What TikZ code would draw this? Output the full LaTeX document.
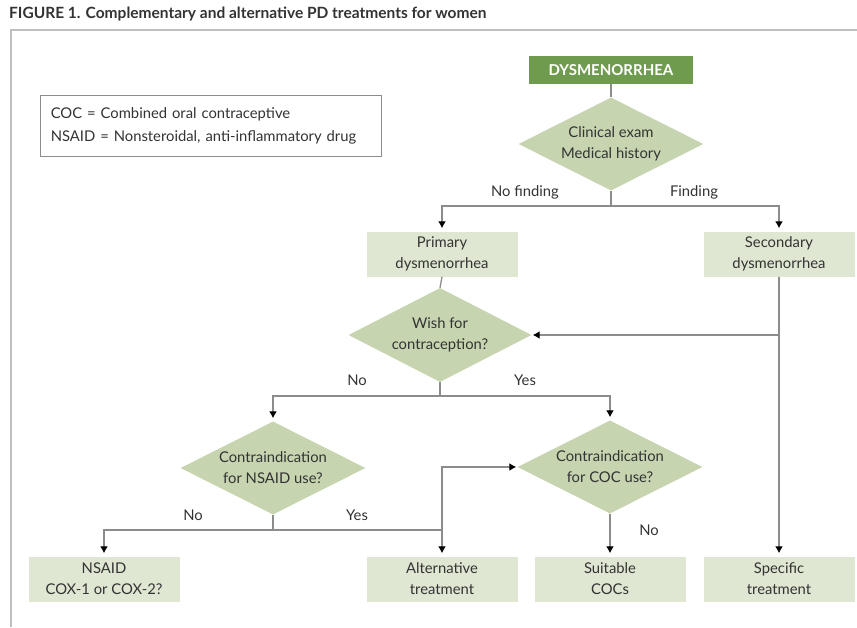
\documentclass[tikz,border=0pt]{standalone}
\usepackage{fontspec}
\setmainfont{Lato}
\usepackage{xcolor}
\usetikzlibrary{arrows.meta,positioning,shapes.geometric,calc}

\definecolor{darkgreen}{HTML}{6E9B4E}
\definecolor{diagreen}{HTML}{C6D5B0}
\definecolor{boxgreen}{HTML}{DFE7D2}
\definecolor{linegray}{HTML}{8C8C8C}
\definecolor{textgray}{HTML}{333333}

\begin{document}
\begin{tikzpicture}[x=1pt,y=-1pt,
  every node/.style={text=textgray,font=\fontsize{14.8}{21}\selectfont},
  box/.style={fill=boxgreen,minimum width=151,minimum height=45,align=center,inner sep=0},
  decision/.style={diamond,aspect=2.2,fill=diagreen,minimum width=185,minimum height=93,
    inner sep=-10pt,align=center},
  lbl/.style={font=\fontsize{14.8}{17}\selectfont},
  line/.style={draw=linegray,line width=1.3pt},
  arr/.style={line,-{Latex[length=7pt,width=8pt,color=black]},shorten >=3pt}
]
\useasboundingbox (0,0) rectangle (857,627);
% frame and title
\draw[draw=black!25,line width=1.5pt] (11,627) -- (11,30) -- (857,30);
\node[anchor=west,font=\bfseries\fontsize{15.5}{17}\selectfont,inner sep=0] (title) at (9,14)
  {FIGURE 1. Complementary and alternative PD treatments for women};
\node[draw=black!45,line width=0.6pt,minimum width=341,minimum height=61,text width=320,
  align=left,anchor=north west,font=\fontsize{14.8}{23}\selectfont] (legend) at (40,95)
  {COC = Combined oral contraceptive\\NSAID = Nonsteroidal, anti-inflammatory drug};

% nodes
\node[fill=darkgreen,minimum width=164,minimum height=28,inner sep=0,text=white,
  font=\bfseries\fontsize{15}{17}\selectfont] (dys) at (611,70) {DYSMENORRHEA};
\node[decision] (clin) at (611,144) {Clinical exam\\Medical history};
\node[box] (prim) at (442,254) {Primary\\dysmenorrhea};
\node[box] (sec) at (779,254) {Secondary\\dysmenorrhea};
\node[decision,minimum width=183,minimum height=94] (wish) at (440,335) {Wish for\\contraception?};
\node[decision] (nsaidq) at (273,468) {Contraindication\\for NSAID use?};
\node[decision] (cocq) at (610,467) {Contraindication\\for COC use?};
\node[box] (nsaid) at (104,579) {NSAID\\COX-1 or COX-2?};
\node[box] (alt) at (442,579) {Alternative\\treatment};
\node[box] (coc) at (610,579) {Suitable\\COCs};
\node[box] (spec) at (779,579) {Specific\\treatment};

% junctions
\coordinate (j1) at (611,206);
\coordinate (j2) at (779,335);
\coordinate (j3) at (440,396);
\coordinate (j4) at (273,530);
\coordinate (j5) at (442,530);

% connectors
\draw[line] (dys) -- (clin);
\draw[line] (clin.south) -- (j1);
\draw[arr] (j1) -| (prim.north);
\draw[arr] (j1) -| (sec.north);
\node[lbl] (nofind) at (525,192) {No finding};
\node[lbl] (find) at (694,192) {Finding};
\draw[arr] (sec.south) -- (spec.north);
\draw[arr,shorten >=1pt] (j2) -- (wish.east);
\draw[line] (prim.south) -- (wish.north);
\draw[line] (wish.south) -- (j3);
\draw[arr] (j3) -| (nsaidq.north);
\draw[arr] (j3) -| (cocq.north);
\node[lbl] (no1) at (357,380) {No};
\node[lbl] (yes1) at (525,380) {Yes};
\draw[line] (nsaidq.south) -- (j4);
\draw[arr] (j4) -| (nsaid.north);
\draw[line] (j4) -- (j5);
\draw[arr] (j5) -- (alt.north);
\draw[arr,shorten >=1pt] (j5) |- (cocq.west);
\node[lbl] (no2) at (193,515) {No};
\node[lbl] (yes2) at (357,515) {Yes};
\draw[arr] (cocq.south) -- (coc.north);
\node[lbl] (no3) at (649,530) {No};
\end{tikzpicture}
\end{document}
